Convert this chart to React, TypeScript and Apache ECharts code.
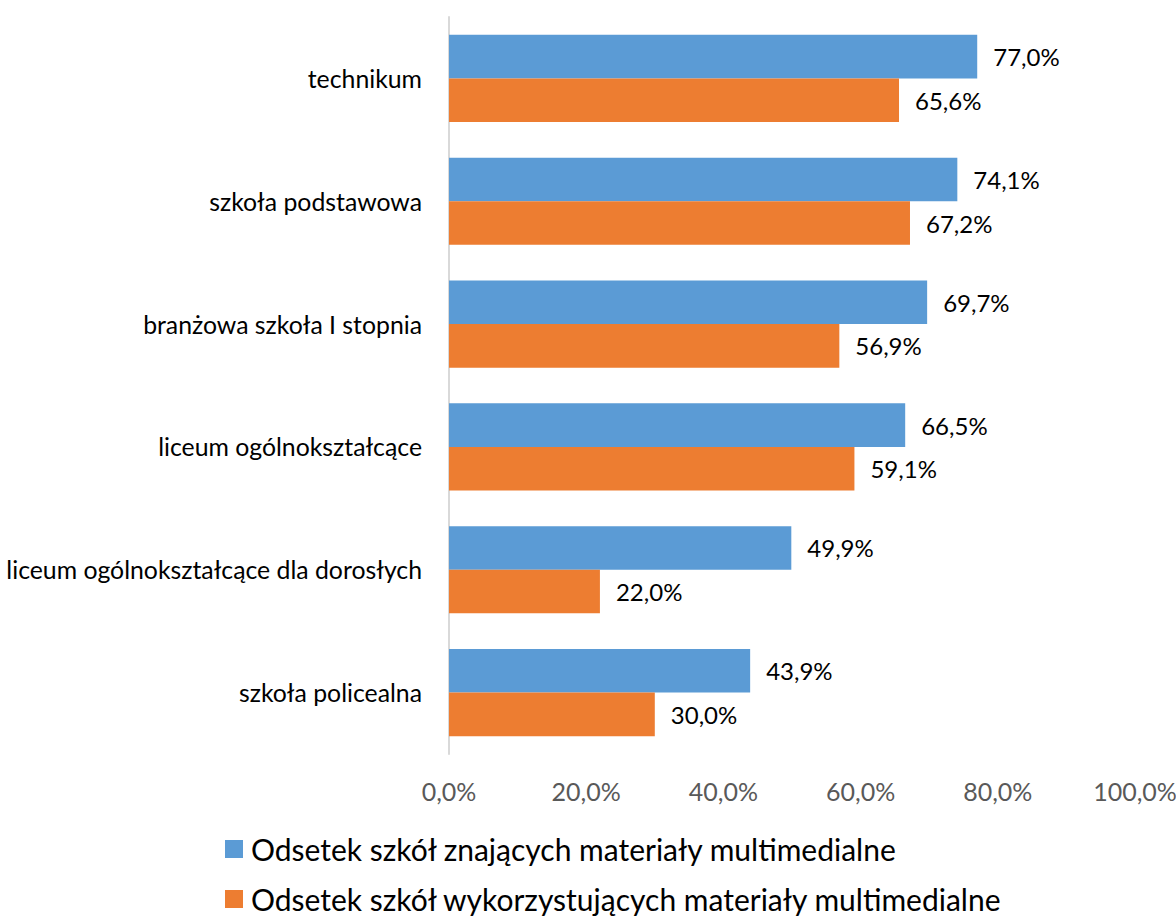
import React, { useEffect, useRef } from "react";
import * as echarts from "echarts";

const categories = [
  "technikum",
  "szkoła podstawowa",
  "branżowa szkoła I stopnia",
  "liceum ogólnokształcące",
  "liceum ogólnokształcące dla dorosłych",
  "szkoła policealna",
];
const seriesNames = [
  "Odsetek szkół znających materiały multimedialne",
  "Odsetek szkół wykorzystujących materiały multimedialne",
];
const knowing = [77.0, 74.1, 69.7, 66.5, 49.9, 43.9];
const using = [65.6, 67.2, 56.9, 59.1, 22.0, 30.0];
const xTicks = { min: 0, max: 100, interval: 20 };

const fmt = (v: number) => v.toFixed(1).replace(".", ",") + "%";
const FONT = "Lato, 'Open Sans', sans-serif";

export default function App() {
  const ref = useRef<HTMLDivElement>(null);
  useEffect(() => {
    if (!ref.current) return;
    const chart = echarts.init(ref.current, undefined, { renderer: "svg" });
    const labelCfg = {
      show: true,
      position: "right",
      distance: 16,
      color: "#000",
      fontSize: 24,
      fontFamily: FONT,
      formatter: (p: any) => fmt(p.value),
    };
    chart.setOption({
      animation: false,
      textStyle: { fontFamily: FONT },
      grid: {
        left: 449,
        right: 41,
        top: 17,
        bottom: 164,
        containLabel: false,
        outerBoundsMode: "none",
      },
      legend: {
        orient: "vertical",
        left: 220,
        top: 829,
        height: 200,
        itemWidth: 18,
        itemHeight: 18,
        itemGap: 20,
        icon: "rect",
        textStyle: {
          fontSize: 30,
          lineHeight: 30,
          color: "#000",
          fontFamily: FONT,
          padding: [0, 0, 0, 3],
        },
        data: seriesNames,
      },
      xAxis: {
        type: "value",
        min: xTicks.min,
        max: xTicks.max,
        interval: xTicks.interval,
        axisLine: { show: false },
        axisTick: { show: false },
        splitLine: { show: false },
        axisLabel: {
          margin: 24,
          fontSize: 25,
          color: "#595959",
          fontFamily: FONT,
          formatter: (v: number) => fmt(v),
        },
      },
      yAxis: {
        type: "category",
        inverse: true,
        data: categories,
        axisTick: { show: false },
        axisLine: { show: true, lineStyle: { color: "#d9d9d9", width: 2 } },
        axisLabel: {
          margin: 27,
          fontSize: 24.8,
          color: "#000",
          fontFamily: FONT,
        },
      },
      series: [
        {
          name: seriesNames[0],
          type: "bar",
          data: knowing,
          barGap: "0%",
          barCategoryGap: "29%",
          itemStyle: { color: "#5B9BD5" },
          label: labelCfg,
        },
        {
          name: seriesNames[1],
          type: "bar",
          data: using,
          barGap: "0%",
          barCategoryGap: "29%",
          itemStyle: { color: "#ED7D31" },
          label: labelCfg,
        },
      ],
    });
    return () => chart.dispose();
  }, []);
  return (
    <div
      ref={ref}
      style={{ position: "absolute", left: 0, top: 0, width: 1176, height: 918 }}
    />
  );
}
